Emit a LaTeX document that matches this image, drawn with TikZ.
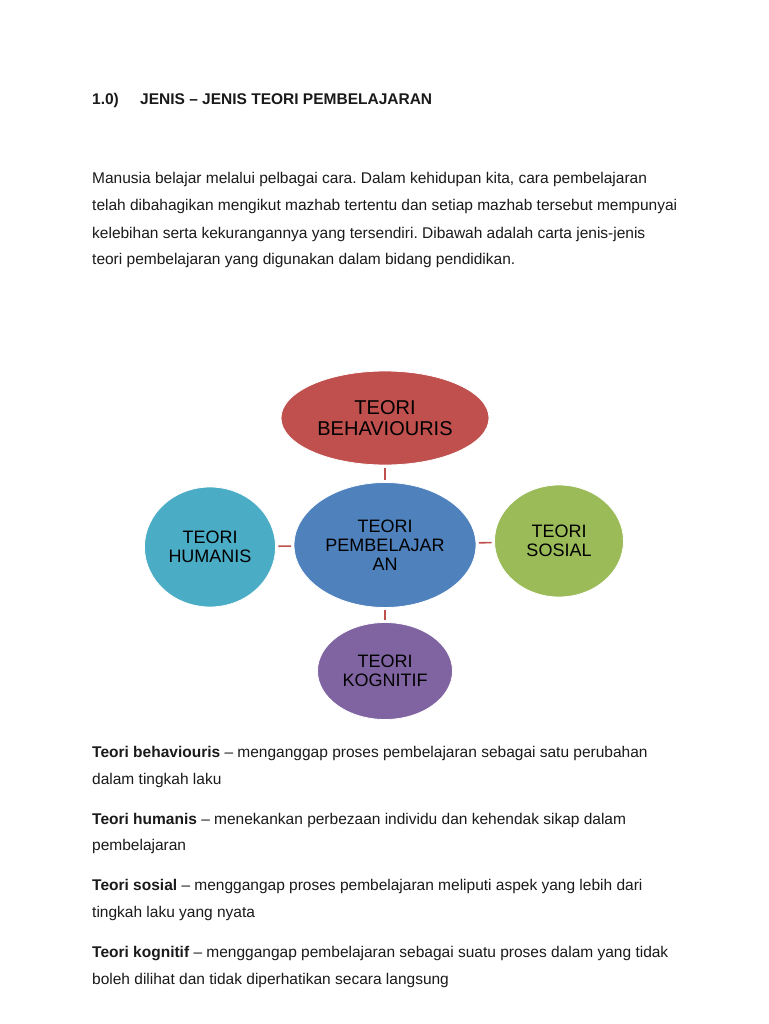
\documentclass[tikz,border=0pt]{standalone}
\usepackage{fontspec}
\setmainfont{Liberation Sans}
\usetikzlibrary{shapes.geometric}
\usepackage{xcolor}
\definecolor{teoriRed}{HTML}{C0504D}
\definecolor{teoriBlue}{HTML}{4F81BD}
\definecolor{teoriCyan}{HTML}{4BACC6}
\definecolor{teoriGreen}{HTML}{9BBB59}
\definecolor{teoriPurple}{HTML}{8064A2}
\definecolor{teoriInk}{HTML}{1A1A1A}
\frenchspacing

\begin{document}
\begin{tikzpicture}[x=1pt,y=-1pt,
  para/.style={anchor=base west,inner sep=0pt,text=teoriInk,font=\fontsize{15.5}{18}\selectfont},
  bubble/.style={ellipse,draw=white,line width=.8pt,inner sep=0pt,align=center,text=black,font=\fontsize{18}{19}\selectfont},
  link/.style={draw=teoriRed,line width=1.6pt,shorten >=2.5pt,shorten <=2.5pt}]
\fill[white] (0,0) rectangle (768,1024);
\useasboundingbox (0,0) rectangle (768,1024);
% heading and introduction
\node[para,font=\fontsize{15.5}{18}\selectfont\bfseries] (num) at (92,105) {1.0)};
\node[para,font=\fontsize{15.5}{18}\selectfont\bfseries] (title) at (140,105) {JENIS -- JENIS TEORI PEMBELAJARAN};
\node[para] (p1) at (92,184) {Manusia belajar melalui pelbagai cara. Dalam kehidupan kita, cara pembelajaran};
\node[para] (p2) at (92,211) {telah dibahagikan mengikut mazhab tertentu dan setiap mazhab tersebut mempunyai};
\node[para] (p3) at (92,238) {kelebihan serta kekurangannya yang tersendiri. Dibawah adalah carta jenis-jenis};
\node[para] (p4) at (92,264) {teori pembelajaran yang digunakan dalam bidang pendidikan.};
% chart
\node[bubble,fill=teoriBlue,minimum width=182pt,minimum height=125pt] (pembelajaran) at (385,545) {TEORI\\PEMBELAJAR\\AN};
\node[bubble,fill=teoriRed,minimum width=208pt,minimum height=94pt,font=\fontsize{20}{21}\selectfont] (behaviouris) at (385,418) {TEORI\\BEHAVIOURIS};
\node[bubble,fill=teoriCyan,minimum width=131pt,minimum height=120pt] (humanis) at (210,547) {TEORI\\HUMANIS};
\node[bubble,fill=teoriGreen,minimum width=129pt,minimum height=112pt] (sosial) at (559,541) {TEORI\\SOSIAL};
\node[bubble,fill=teoriPurple,minimum width=135pt,minimum height=97pt] (kognitif) at (385,671) {TEORI\\KOGNITIF};
\foreach \other in {behaviouris,humanis,sosial,kognitif}
  \draw[link] (pembelajaran) -- (\other);
% descriptions
\node[para] (d1) at (92,757) {\textbf{Teori behaviouris} -- menganggap proses pembelajaran sebagai satu perubahan};
\node[para] (d1b) at (92,784) {dalam tingkah laku};
\node[para] (d2) at (92,824) {\textbf{Teori humanis} -- menekankan perbezaan individu dan kehendak sikap dalam};
\node[para] (d2b) at (92,850) {pembelajaran};
\node[para] (d3) at (92,890) {\textbf{Teori sosial} -- menggangap proses pembelajaran meliputi aspek yang lebih dari};
\node[para] (d3b) at (92,917) {tingkah laku yang nyata};
\node[para] (d4) at (92,957) {\textbf{Teori kognitif} -- menggangap pembelajaran sebagai suatu proses dalam yang tidak};
\node[para] (d4b) at (92,984) {boleh dilihat dan tidak diperhatikan secara langsung};
\end{tikzpicture}
\end{document}
